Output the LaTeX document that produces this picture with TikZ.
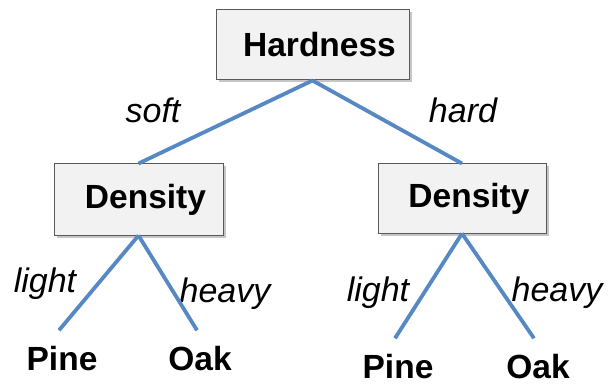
\documentclass[tikz,border=0pt]{standalone}
\usepackage{fontspec}
\setmainfont{Liberation Sans}
\usetikzlibrary{shadows}
\definecolor{branch}{RGB}{86,136,196}
\definecolor{boxfill}{RGB}{242,242,242}

\begin{document}
\begin{tikzpicture}[x=1pt,y=-1pt,-,thick,
  box node/.style={rectangle,draw=black!65,line width=1pt,fill=boxfill,
    drop shadow={shadow xshift=2.5pt,shadow yshift=-2.5pt,opacity=0.45},
    inner sep=0pt,font=\fontsize{33.5}{40}\selectfont\bfseries,
    execute at begin node={\hspace*{14pt}}},
  leaf node/.style={inner xsep=2pt,inner ysep=2pt,font=\fontsize{33.5}{40}\selectfont\bfseries},
  branch label/.style={inner sep=0pt,font=\fontsize{34}{40}\selectfont\itshape},
  branch line/.style={draw=branch,line width=3.8pt}]

  \useasboundingbox (0,0) rectangle (608,385);

  \node[box node,minimum width=193pt,minimum height=70pt] (hardness) at (312.5,45) {Hardness};
  \node[box node,minimum width=169pt,minimum height=71pt] (density1) at (138.5,199.5) {Density};
  \node[box node,minimum width=168pt,minimum height=69pt] (density2) at (462,198.5) {Density};

  \node[leaf node] (pine1) at (62,359) {Pine};
  \node[leaf node] (oak1) at (200,359) {Oak};
  \node[leaf node] (pine2) at (398,367) {Pine};
  \node[leaf node] (oak2) at (538,367) {Oak};

  \node[branch label] (soft) at (153,110) {soft};
  \node[branch label] (hard) at (463,110) {hard};
  \node[branch label] (light1) at (45,284) {light};
  \node[branch label] (heavy1) at (225,294) {heavy};
  \node[branch label] (light2) at (378,293) {light};
  \node[branch label] (heavy2) at (557,293) {heavy};

  \path[branch line]
    (hardness.south) edge (density1.north)
    (hardness.south) edge (density2.north)
    (density1.south) edge ([xshift=-3pt,yshift=14pt]pine1.north)
    (density1.south) edge ([xshift=-3pt,yshift=14pt]oak1.north)
    (density2.south) edge ([xshift=-3pt,yshift=14pt]pine2.north)
    (density2.south) edge ([xshift=-4pt,yshift=14pt]oak2.north);
\end{tikzpicture}
\end{document}
